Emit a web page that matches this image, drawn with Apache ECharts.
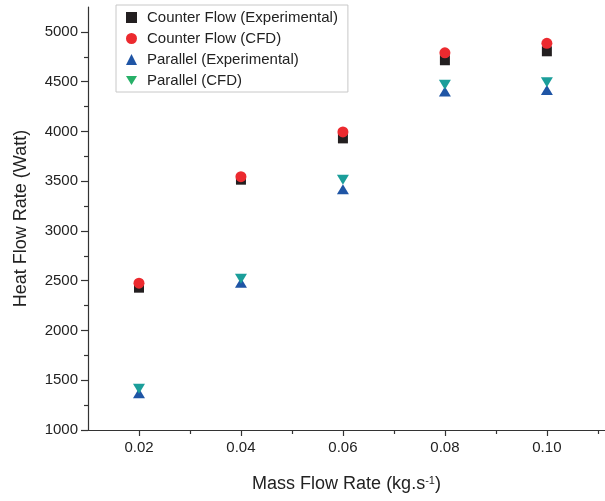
<!DOCTYPE html>
<html>
<head>
<meta charset="utf-8">
<script src="https://cdn.jsdelivr.net/npm/echarts@6/dist/echarts.min.js"></script>
<style>
html,body{margin:0;padding:0;background:#fff;}
#c{width:605px;height:501px;}
</style>
</head>
<body>
<div id="c"></div>
<script>
var massFlow = [0.02, 0.04, 0.06, 0.08, 0.10];
var counterExp = [2430, 3515, 3930, 4715, 4805];
var counterCFD = [2475, 3545, 3995, 4790, 4885];
var parallelExp = [1370, 2480, 3420, 4400, 4415];
var parallelCFD = [1415, 2520, 3515, 4470, 4495];
var xMajorTicks = [0.02, 0.04, 0.06, 0.08, 0.10];
var xMinorTicks = [0.03, 0.05, 0.07, 0.09, 0.11];
var yMajorTicks = [1000, 1500, 2000, 2500, 3000, 3500, 4000, 4500, 5000];
var yMinorTicks = [1250, 1750, 2250, 2750, 3250, 3750, 4250, 4750];

function pairs(xs, ys){ return xs.map(function(x,i){ return [x, ys[i]]; }); }

var font = 'Liberation Sans, Arial, sans-serif';
var axisCol = '#333';
var downTri = 'path://M0,0 L12,0 L6,10 Z';
var chart = echarts.init(document.getElementById('c'), null, {renderer:'canvas'});
chart.setOption({
  animation:false,
  backgroundColor:'#fff',
  textStyle:{fontFamily:font},
  grid:{left:88, right:0, top:7, bottom:71, containLabel:false},
  legend:{
    orient:'vertical', left:116, top:5,
    padding:[5,10,4,10],
    itemGap:6, itemWidth:11, itemHeight:11,
    borderColor:'#c8c8c8', borderWidth:1,
    textStyle:{fontSize:15, color:'#222', fontFamily:font, lineHeight:15, padding:[0,0,0,5]},
    data:[
      {name:'Counter Flow (Experimental)', icon:'rect', itemStyle:{color:'#231f20', opacity:1}},
      {name:'Counter Flow (CFD)', icon:'circle', itemStyle:{color:'#ec2a2f', opacity:1}},
      {name:'Parallel (Experimental)', icon:'triangle', itemStyle:{color:'#1f55a5', opacity:1}},
      {name:'Parallel (CFD)', icon:downTri, itemStyle:{color:'#27b068', opacity:1}}
    ]
  },
  xAxis:[{
    type:'value', min:0.01, max:0.1114,
    name:'Mass Flow Rate (kg.s{sup|-1})', nameLocation:'middle', nameGap:45,
    nameTextStyle:{fontSize:18, color:'#222', fontFamily:font,
      rich:{sup:{fontSize:11, verticalAlign:'top', padding:[0,0,8,0], color:'#222'}}},
    axisLine:{show:true, onZero:false, lineStyle:{color:axisCol, width:1.2}},
    axisTick:{show:true, length:6, customValues:xMajorTicks, lineStyle:{color:axisCol, width:1.2}},
    axisLabel:{customValues:xMajorTicks, fontSize:15, color:'#222', margin:10,
      formatter:function(v){ return v.toFixed(2); }},
    splitLine:{show:false}
  },{
    type:'value', min:0.01, max:0.1114, position:'bottom',
    axisLine:{show:false},
    axisTick:{show:true, length:4, customValues:xMinorTicks, lineStyle:{color:axisCol, width:1.2}},
    axisLabel:{show:false},
    splitLine:{show:false}
  }],
  yAxis:[{
    type:'value', min:1000, max:5250,
    name:'Heat Flow Rate (Watt)', nameLocation:'middle', nameGap:58, nameRotate:90,
    nameTextStyle:{fontSize:18, color:'#222', fontFamily:font},
    axisLine:{show:true, onZero:false, lineStyle:{color:axisCol, width:1.2}},
    axisTick:{show:true, length:7, customValues:yMajorTicks, lineStyle:{color:axisCol, width:1.2}},
    axisLabel:{customValues:yMajorTicks, fontSize:15, color:'#222', margin:10,
      formatter:function(v){ return String(Math.round(v)); }},
    splitLine:{show:false}
  },{
    type:'value', min:1000, max:5250, position:'left',
    axisLine:{show:false},
    axisTick:{show:true, length:4, customValues:yMinorTicks, lineStyle:{color:axisCol, width:1.2}},
    axisLabel:{show:false},
    splitLine:{show:false}
  }],
  series:[
    {name:'Counter Flow (Experimental)', type:'scatter', symbol:'rect', symbolSize:10,
      itemStyle:{color:'#231f20', opacity:1}, data:pairs(massFlow, counterExp)},
    {name:'Counter Flow (CFD)', type:'scatter', symbol:'circle', symbolSize:11,
      itemStyle:{color:'#ec2a2f', opacity:1}, data:pairs(massFlow, counterCFD)},
    {name:'Parallel (Experimental)', type:'scatter', symbol:'triangle', symbolSize:[12,10],
      itemStyle:{color:'#1f55a5', opacity:1}, data:pairs(massFlow, parallelExp)},
    {name:'Parallel (CFD)', type:'scatter', symbol:'triangle', symbolRotate:180, symbolSize:[12,10],
      itemStyle:{color:'#1b9e9a', opacity:1}, data:pairs(massFlow, parallelCFD)}
  ]
});
</script>
</body>
</html>
